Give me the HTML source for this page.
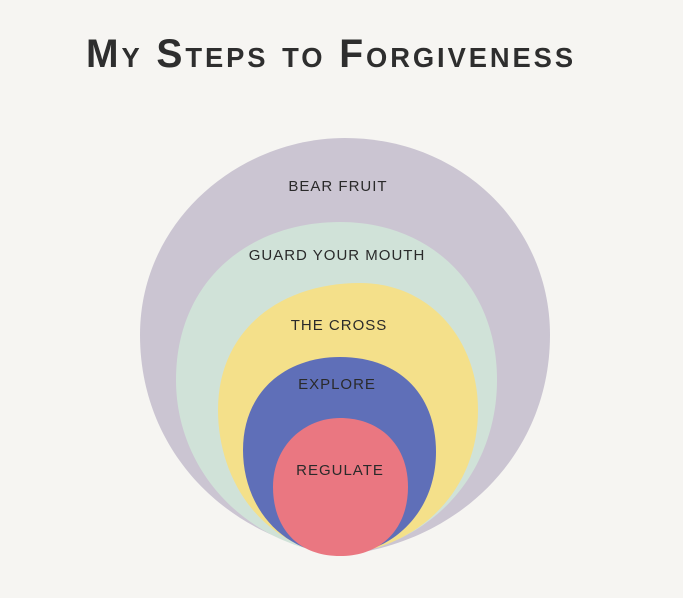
<!DOCTYPE html>
<html><head><style>
body{margin:0;background:#f6f5f2;width:683px;height:593px;overflow:hidden}
</style></head><body>
<svg width="683" height="593" viewBox="0 0 683 593" xmlns="http://www.w3.org/2000/svg">
<rect width="683" height="593" fill="#f6f5f2"/>
<text x="331" y="67" text-anchor="middle" font-family="Liberation Sans, sans-serif" font-size="40" font-weight="bold" fill="#2e2e2e" style="font-variant:small-caps;letter-spacing:3px" textLength="490" lengthAdjust="spacingAndGlyphs">My Steps to Forgiveness</text>
<path d="M345,555 C225,540 140,450 140,335 C140,220 240,138 345,138 C460,138 550,225 550,335 C550,450 465,540 345,555Z" fill="#cbc5d2"/>
<path d="M340,555 C245,545 176,470 176,380 C176,280 250,222 340,222 C430,222 497,285 497,380 C497,470 435,545 340,555Z" fill="#d0e2d8"/>
<path d="M340,555 C262,548 218,480 218,410 C218,330 280,283 360,283 C430,283 478,340 478,410 C478,490 420,548 340,555Z" fill="#f4e08a"/>
<path d="M340,555 C280,553 243,505 243,450 C243,392 285,357 340,357 C400,357 436,395 436,452 C436,510 395,553 340,555Z" fill="#5f6fb8"/>
<path d="M340,556 C295,556 273,525 273,487 C273,445 305,418 340,418 C380,418 408,445 408,487 C408,528 382,556 340,556Z" fill="#ea7781"/>
<g font-family="Liberation Sans, sans-serif" font-size="15" fill="#2a2a2a" text-anchor="middle" style="letter-spacing:1px">
<text x="338" y="191">BEAR FRUIT</text>
<text x="337" y="260">GUARD YOUR MOUTH</text>
<text x="339" y="330">THE CROSS</text>
<text x="337" y="389">EXPLORE</text>
<text x="340" y="475">REGULATE</text>
</g>
</svg>
</body></html>
